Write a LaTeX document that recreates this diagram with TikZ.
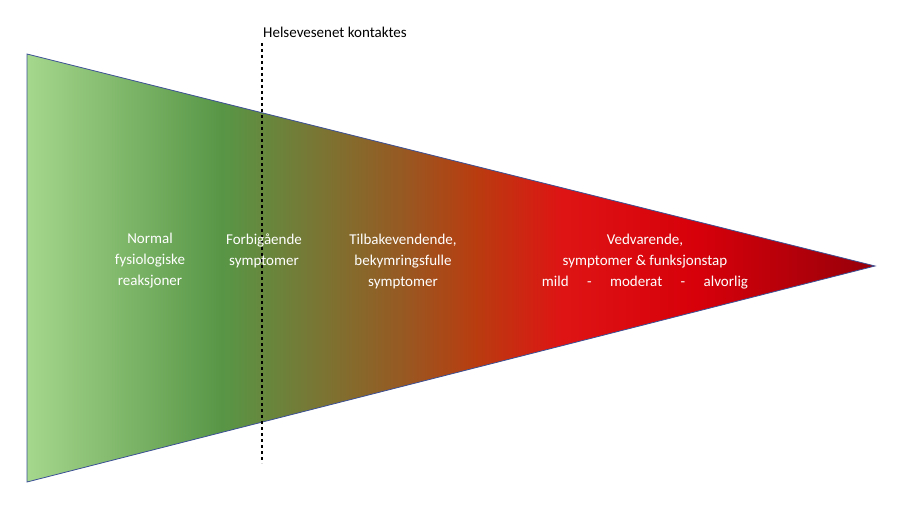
\documentclass[tikz,border=0pt]{standalone}
\usepackage{fontspec}
\setmainfont{Carlito}
\usetikzlibrary{positioning}
\definecolor{c1}{RGB}{165,215,140}
\definecolor{c2}{RGB}{88,150,70}
\definecolor{c3}{RGB}{150,90,35}
\definecolor{c4}{RGB}{185,60,15}
\definecolor{c5}{RGB}{222,20,20}
\definecolor{c6}{RGB}{215,0,10}
\definecolor{c7}{RGB}{150,0,10}
\definecolor{edge}{RGB}{60,80,150}
\pgfdeclarehorizontalshading{fade}{100bp}{
color(0bp)=(c1); color(25bp)=(c1); color(36.5bp)=(c2); color(47bp)=(c3);
color(51.5bp)=(c4); color(56.5bp)=(c5); color(64.5bp)=(c6); color(75bp)=(c7); color(100bp)=(c7)}
\tikzset{stage/.style={text=white, align=center, font=\fontsize{15}{21}\selectfont}}

\begin{document}
\begin{tikzpicture}[x=1pt, y=-1pt]
\useasboundingbox (0,0) rectangle (908,524);
\coordinate (top) at (27,54);
\coordinate (bot) at (27,482);
\coordinate (tip) at (875,266);
\shade[shading=fade, draw=edge, line width=0.8pt] (top) -- (tip) -- (bot) -- cycle;
\coordinate (d1) at (262,43);
\coordinate (d2) at (262,463);
\draw[dashed, line width=1.2pt] (d1) -- (d2);
\node[font=\fontsize{15}{18}\selectfont] (contact) at (335,32) {Helsevesenet kontaktes};
\node[stage] (normal) at (150,261) {Normal\\fysiologiske\\reaksjoner};
\node[stage] (brief) at (264,251) {Forbigående\\symptomer};
\node[stage] (recur) at (403,262) {Tilbakevendende,\\bekymringsfulle\\symptomer};
\node[stage] (lasting) at (645,262) {Vedvarende,\\symptomer \& funksjonstap\\mild \quad - \quad moderat \quad - \quad alvorlig};
\end{tikzpicture}
\end{document}
